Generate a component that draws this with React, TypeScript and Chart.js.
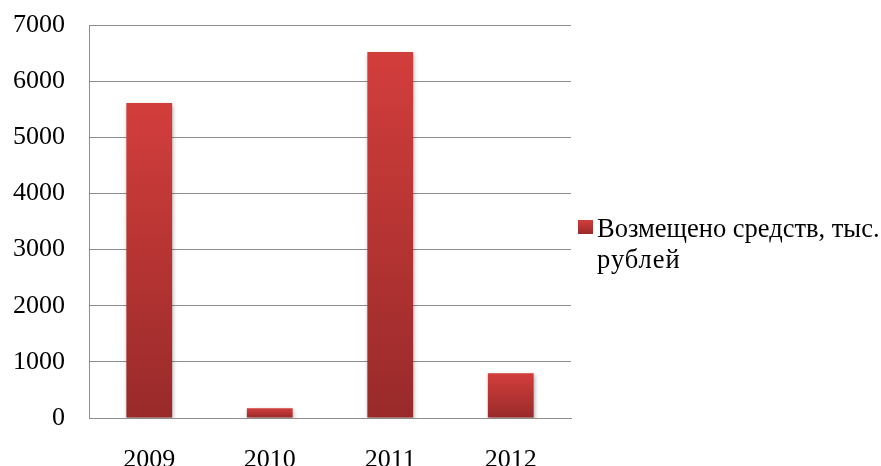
import React, { useEffect, useRef } from "react";
import { Chart, registerables } from "chart.js";

Chart.register(...registerables);

const categories = ["2009", "2010", "2011", "2012"];
const seriesLabel = ["Возмещено средств, тыс.", "рублей"];
const values = [5610, 175, 6520, 795];
const yMax = 7000;
const yStep = 1000;

const FONT = "'Liberation Serif', 'Times New Roman', serif";
const TOP_COLOR = "#d23e3c";
const BOTTOM_COLOR = "#992a2a";

const sideLegend = {
  id: "sideLegend",
  afterDraw(chart: any) {
    const ctx = chart.ctx;
    const ca = chart.chartArea;
    const bx = ca.right + 7;
    const by = 220;
    ctx.save();
    const g = ctx.createLinearGradient(0, by, 0, by + 14);
    g.addColorStop(0, TOP_COLOR);
    g.addColorStop(1, BOTTOM_COLOR);
    ctx.fillStyle = g;
    ctx.fillRect(bx, by, 15, 14);
    ctx.fillStyle = "#000";
    ctx.font = `26.5px ${FONT}`;
    ctx.textAlign = "left";
    ctx.textBaseline = "alphabetic";
    seriesLabel.forEach((line, i) => {
      (ctx as any).letterSpacing = i === 0 ? "0px" : "1px";
      ctx.fillText(line, bx + 19, 237 + i * 31);
    });
    ctx.restore();
  },
};

const barShadow = {
  id: "barShadow",
  beforeDatasetDraw(chart: any) {
    const ctx = chart.ctx;
    ctx.save();
    ctx.shadowColor = "rgba(0,0,0,0.3)";
    ctx.shadowBlur = 4;
    ctx.shadowOffsetX = 1;
    ctx.shadowOffsetY = 2;
  },
  afterDatasetDraw(chart: any) {
    chart.ctx.restore();
  },
};

export default function App() {
  const ref = useRef<HTMLCanvasElement>(null);
  useEffect(() => {
    if (!ref.current) return;
    const chart = new Chart(ref.current, {
      type: "bar",
      data: {
        labels: categories,
        datasets: [
          {
            label: seriesLabel.join(" "),
            data: values,
            backgroundColor: (c: any) => {
              const ch = c.chart;
              const ys = ch.scales && ch.scales.y;
              if (!ch.chartArea || !ys || c.dataIndex === undefined) return "#c23535";
              const top = ys.getPixelForValue(values[c.dataIndex]);
              const bottom = ys.getPixelForValue(0);
              if (!isFinite(top) || !isFinite(bottom) || top === bottom) return "#c23535";
              const g = ch.ctx.createLinearGradient(0, top, 0, bottom);
              g.addColorStop(0, TOP_COLOR);
              g.addColorStop(1, BOTTOM_COLOR);
              return g;
            },
            borderWidth: 0,
            barPercentage: 0.38,
            categoryPercentage: 1,
          },
        ],
      },
      plugins: [barShadow, sideLegend],
      options: {
        animation: false,
        responsive: true,
        maintainAspectRatio: false,
        layout: { padding: { top: 25, right: 310, left: 0, bottom: 0 } },
        plugins: {
          tooltip: { enabled: false },
          legend: { display: false },
        },
        scales: {
          x: {
            grid: { display: false, drawTicks: false },
            border: { display: true, color: "#8c8c8c", width: 1 },
            ticks: {
              color: "#000",
              font: { family: FONT, size: 26 },
              padding: 27,
            },
            afterFit: (s: any) => {
              s.height = 62;
              s.paddingLeft = 0;
              s.paddingRight = 0;
            },
          },
          y: {
            min: 0,
            max: yMax,
            grid: { color: "#8c8c8c", lineWidth: 1, drawTicks: false },
            border: { display: true, color: "#8c8c8c", width: 1 },
            ticks: {
              stepSize: yStep,
              color: "#000",
              font: { family: FONT, size: 26 },
              padding: 24,
              callback: (v: any) => String(v),
            },
            afterFit: (s: any) => {
              s.width = 89;
              s.paddingTop = 0;
              s.paddingBottom = 0;
            },
          },
        },
      },
    });
    return () => chart.destroy();
  }, []);
  return (
    <div style={{ position: "fixed", left: 0, top: 0, width: 881, height: 466, overflow: "hidden", background: "#fff" }}>
      <div style={{ position: "relative", width: 881, height: 480 }}>
        <canvas ref={ref} />
      </div>
    </div>
  );
}
